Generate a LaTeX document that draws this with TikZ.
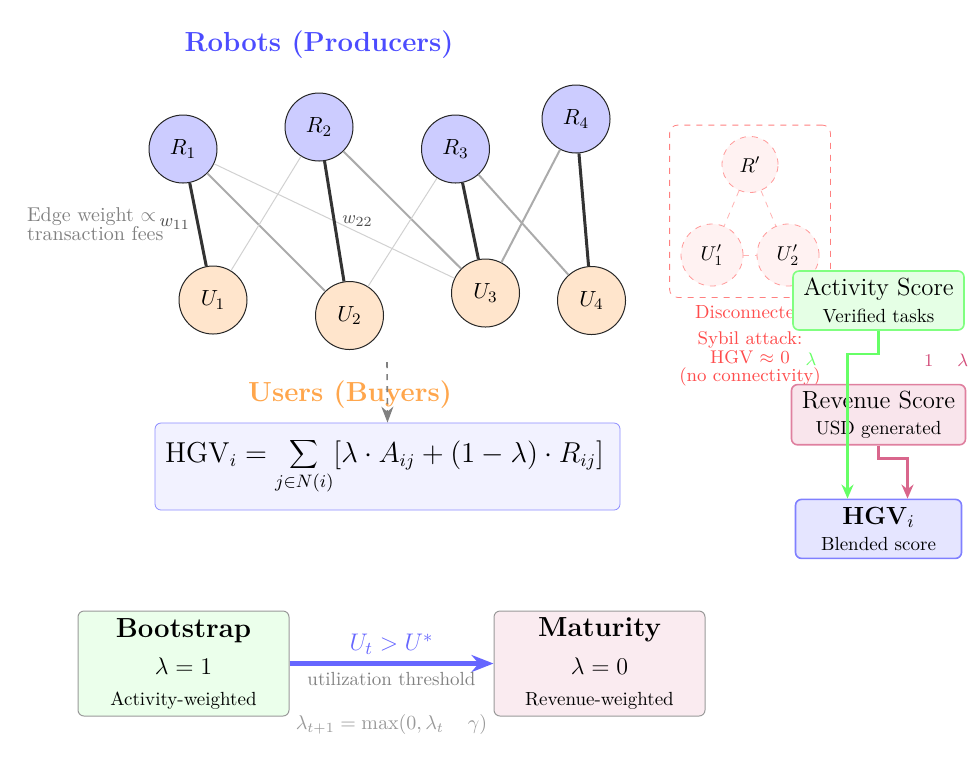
\documentclass[tikz,border=0pt]{standalone}
\usetikzlibrary{arrows.meta,positioning,fit}
\newcommand{\txtbig}{\fontsize{13.8}{16}\selectfont}
\newcommand{\txtmid}{\fontsize{12.4}{14}\selectfont}
\newcommand{\txtsmall}{\fontsize{9.5}{11}\selectfont}

\begin{document}
\begin{tikzpicture}[
  x=0.5pt, y=-0.5pt,
  >=Stealth,
  robot/.style={circle, draw=black!85, line width=.5pt, fill=blue!20,
                minimum size=34pt, inner sep=0pt, font=\fontsize{11}{13}\selectfont},
  user/.style={robot, fill=orange!20},
  strong/.style={draw=black!80, line width=1.5pt},
  medium/.style={draw=black!33, line width=1pt},
  weak/.style={draw=black!18, line width=.5pt},
  weight/.style={font=\txtsmall, text=black!70},
  sybil/.style={circle, dashed, draw=red!40, fill=red!5, minimum size=28pt, inner sep=1pt},
  sybiledge/.style={dashed, draw=red!30},
  title/.style={font=\txtbig\bfseries},
  note/.style={font=\txtsmall, align=center},
  score/.style={rounded corners=3pt, thick, align=center, minimum height=29.5pt,
                inner sep=3pt, font=\txtsmall},
  phasebox/.style={rounded corners=3pt, draw=black!40, line width=.5pt, align=center,
                   minimum width=105.5pt, minimum height=52.5pt, font=\txtsmall},
  feed/.style={-{Stealth[length=7pt,width=6pt]}, line width=1.2pt}
]

\useasboundingbox (0,0) rectangle (977,757);

% Producers and buyers of the market graph
\node[title, text=blue!70] (robottitle) at (319,45) {Robots (Producers)};
\node[robot] (R1) at (183,149) {$R_1$};
\node[robot] (R2) at (319,127) {$R_2$};
\node[robot] (R3) at (455.5,149) {$R_3$};
\node[robot] (R4) at (576,119) {$R_4$};

\node[user] (U1) at (213,300) {$U_1$};
\node[user] (U2) at (349.5,315.5) {$U_2$};
\node[user] (U3) at (485.5,293) {$U_3$};
\node[user] (U4) at (591.5,300.5) {$U_4$};

\draw[strong] (R1) -- node[left, weight]{$w_{11}$} (U1);
\draw[medium] (R1) -- (U2);
\draw[weak] (R1) -- (U3);
\draw[weak] (R2) -- (U1);
\draw[strong] (R2) -- node[right, weight]{$w_{22}$} (U2);
\draw[medium] (R2) -- (U3);
\draw[weak] (R3) -- (U2);
\draw[strong] (R3) -- (U3);
\draw[medium] (R3) -- (U4);
\draw[medium] (R4) -- (U3);
\draw[strong] (R4) -- (U4);

\node[anchor=west, align=left, text=gray, font=\fontsize{10}{9.5}\selectfont] (edgenote)
  at (20,224.5) {Edge weight $\propto$\\transaction fees};

\node[title, text=orange!70] (usertitle) at (350,395) {Users (Buyers)};

% Aggregated score
\node[draw=blue!45, fill=blue!5, rounded corners=3pt, text width=222.5pt, inner xsep=5pt,
      align=left, minimum height=43.5pt, font=\fontsize{13.3}{15}\selectfont] (hgvformula) at (387.5,466.5)
  {$\displaystyle \mathrm{HGV}_i = \sum_{j\in N(i)} [\lambda\cdot A_{ij} + (1-\lambda)\cdot R_{ij}]$};
\coordinate (collect) at (387,362);
\draw[-{Stealth[length=8pt,width=6pt]}, dashed, thick, draw=gray] (collect) -- (hgvformula.north);

% Sybil cluster with no link to the market
\node[sybil] (Rs) at (750,164.5) {$R'$};
\node[sybil, minimum size=31pt] (Us1) at (712,255) {$U'_1$};
\node[sybil, minimum size=31pt] (Us2) at (788,255) {$U'_2$};
\draw[sybiledge] (Rs) -- (Us1);
\draw[sybiledge] (Rs) -- (Us2);
\draw[sybiledge] (Us1) -- (Us2);
\node[draw=red!50, dashed, rounded corners=4pt, inner sep=5.5pt, fit=(Rs)(Us1)(Us2)] (cluster) {};
\node[note, text=red!70, below=0pt of cluster] (disc) {Disconnected};
\node[note, text=red!70, font=\fontsize{9.2}{9.3}\selectfont] (sybilnote) at (750,359)
  {Sybil attack:\\HGV $\approx$ 0\\(no connectivity)};

% Score blending
\node[score, draw=green!50, fill=green!10, minimum width=85.5pt] (activity) at (878.5,300.5)
  {{\txtmid Activity Score}\\[2.4pt]Verified tasks};
\node[score, draw=purple!50, fill=purple!10, minimum width=87pt, below=26.5pt of activity] (revenue)
  {{\txtmid Revenue Score}\\[2.4pt]USD generated};
\node[score, draw=blue!50, fill=blue!10, minimum width=83pt, below=26.5pt of revenue] (hgv)
  {{\txtmid\textbf{HGV}$_i$}\\[2.4pt]Blended score};

\draw[feed, draw=green!60] (activity.south) -- ++(0,-11.5pt) -| ([xshift=-15.5pt]hgv.north);
\draw[feed, draw=purple!60] (revenue.south) -- ++(0,-6.5pt) -| ([xshift=14.5pt]hgv.north);
\node[text=green!60, font=\txtsmall] (actlabel) at (811,359) {$\lambda$};
\node[text=purple!70, font=\txtsmall] (revlabel) at (946,360) {$1\hspace{12pt}\lambda$};

% Phase transition of lambda
\node[phasebox, fill=green!8] (boot) at (183.5,663.5)
  {{\txtbig\bfseries Bootstrap}\\[6.5pt]{\txtmid$\lambda=1$}\\[4.5pt]Activity-weighted};
\node[phasebox, fill=purple!8, right=102pt of boot] (mature)
  {{\txtbig\bfseries Maturity}\\[6.5pt]{\txtmid$\lambda=0$}\\[4.5pt]Revenue-weighted};
\draw[-{Stealth[length=11pt,width=8.5pt]}, line width=2.5pt, draw=blue!60] (boot) --
  node[above, font=\txtmid, text=blue!60] (cond) {$U_t > U^*$}
  node[below, note, text=gray] (thresh) {utilization threshold} (mature);
\node[note, text=black!40, font=\fontsize{10.4}{12}\selectfont, below=6pt of thresh] (update)
  {$\lambda_{t+1} = \max(0, \lambda_t\hspace{12pt}\gamma)$};

\end{tikzpicture}
\end{document}
